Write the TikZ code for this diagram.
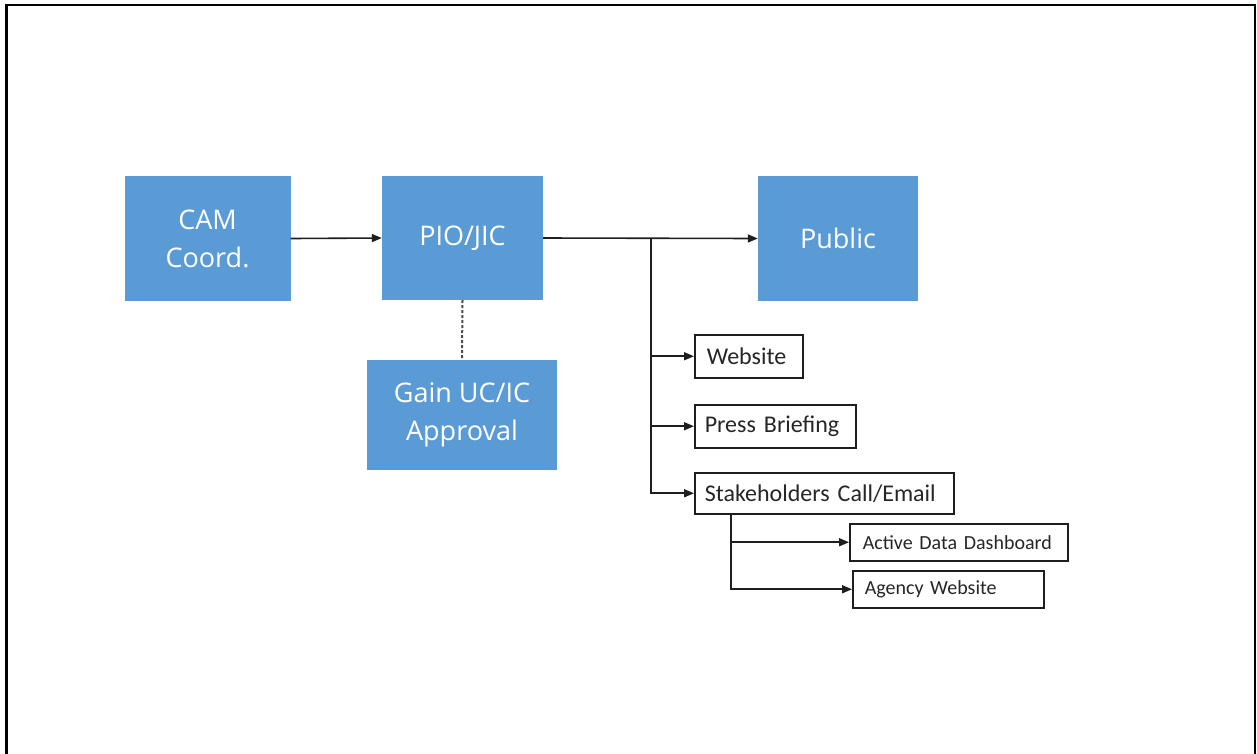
\documentclass[tikz,border=0pt]{standalone}
\usepackage{fontspec}
\setmainfont{Carlito}
\newfontfamily\bluefont{Open Sans}
\usetikzlibrary{arrows.meta}
\definecolor{boxblue}{RGB}{91,155,213}
\definecolor{linegray}{RGB}{30,30,30}
\tikzset{
  bluebox/.style={fill=boxblue, draw=none, text=white, font=\bluefont\fontsize{27}{38}\selectfont, align=center, inner sep=0pt},
  whitebox/.style={draw=linegray, line width=1.5pt, fill=white, anchor=north west, inner sep=0pt, align=left, text=black!85},
  conn/.style={draw=linegray, line width=1.6pt},
  arr/.style={conn, -{Triangle[length=10pt,width=8pt]}},
  dotline/.style={draw=black!70, line width=2pt, dash pattern=on 3pt off 2pt},
}
\begin{document}
\begin{tikzpicture}[x=1pt,y=-1pt]
\useasboundingbox (0,0) rectangle (1257,753);
\fill[white] (0,0) rectangle (1257,753);
% frame
\draw[line width=2.2pt, black] (6.5,760) -- (6.5,5) -- (1255,5) -- (1255,760);

% blue boxes
\node[bluebox, minimum width=166pt, minimum height=125pt] (cam) at (207.5,238.5) {CAM\\Coord.};
\node[bluebox, minimum width=161pt, minimum height=124pt] (pio) at (462.5,238) {PIO/JIC};
\node[bluebox, minimum width=160pt, minimum height=125pt] (pub) at (838,238.5) {Public};
\node[bluebox, minimum width=190pt, minimum height=110pt] (gain) at (462,415) {Gain UC/IC\\Approval};

% white boxes
\node[whitebox, minimum width=108pt, minimum height=43pt, text width=96pt, font=\fontsize{24}{28}\selectfont] (web) at (694,334) {\hspace*{6pt}Website};
\node[whitebox, minimum width=161pt, minimum height=43pt, text width=149pt, font=\fontsize{24}{28}\selectfont] (press) at (694,404) {\hspace*{4pt}Press Briefing};
\node[whitebox, minimum width=259pt, minimum height=41pt, text width=247pt, font=\fontsize{24}{28}\selectfont] (stake) at (694,472) {\hspace*{4pt}Stakeholders Call/Email};
\node[whitebox, minimum width=218pt, minimum height=37pt, text width=206pt, font=\fontsize{20}{24}\selectfont] (dash) at (849,523) {\hspace*{7pt}Active Data Dashboard};
\node[whitebox, minimum width=191pt, minimum height=37pt, text width=179pt, font=\fontsize{20}{24}\selectfont] (agency) at (852,570) {\hspace*{6pt}Agency Website};

% connectors
\coordinate (b1) at (651,239);
\coordinate (b2) at (731,513);
\draw[arr] (cam.east) -- (pio.west);
\draw[arr] (pio.east) -- (pub.west);
\draw[conn] (b1) -- (651,493);
\draw[arr] (b1) |- (web.west);
\draw[arr] (b1) |- (press.west);
\draw[arr] (b1) |- (stake.west);
\draw[arr] (b2) |- (dash.west);
\draw[arr] (b2) |- (agency.west);
\draw[dotline] (pio.south) -- (gain.north);
\end{tikzpicture}
\end{document}
